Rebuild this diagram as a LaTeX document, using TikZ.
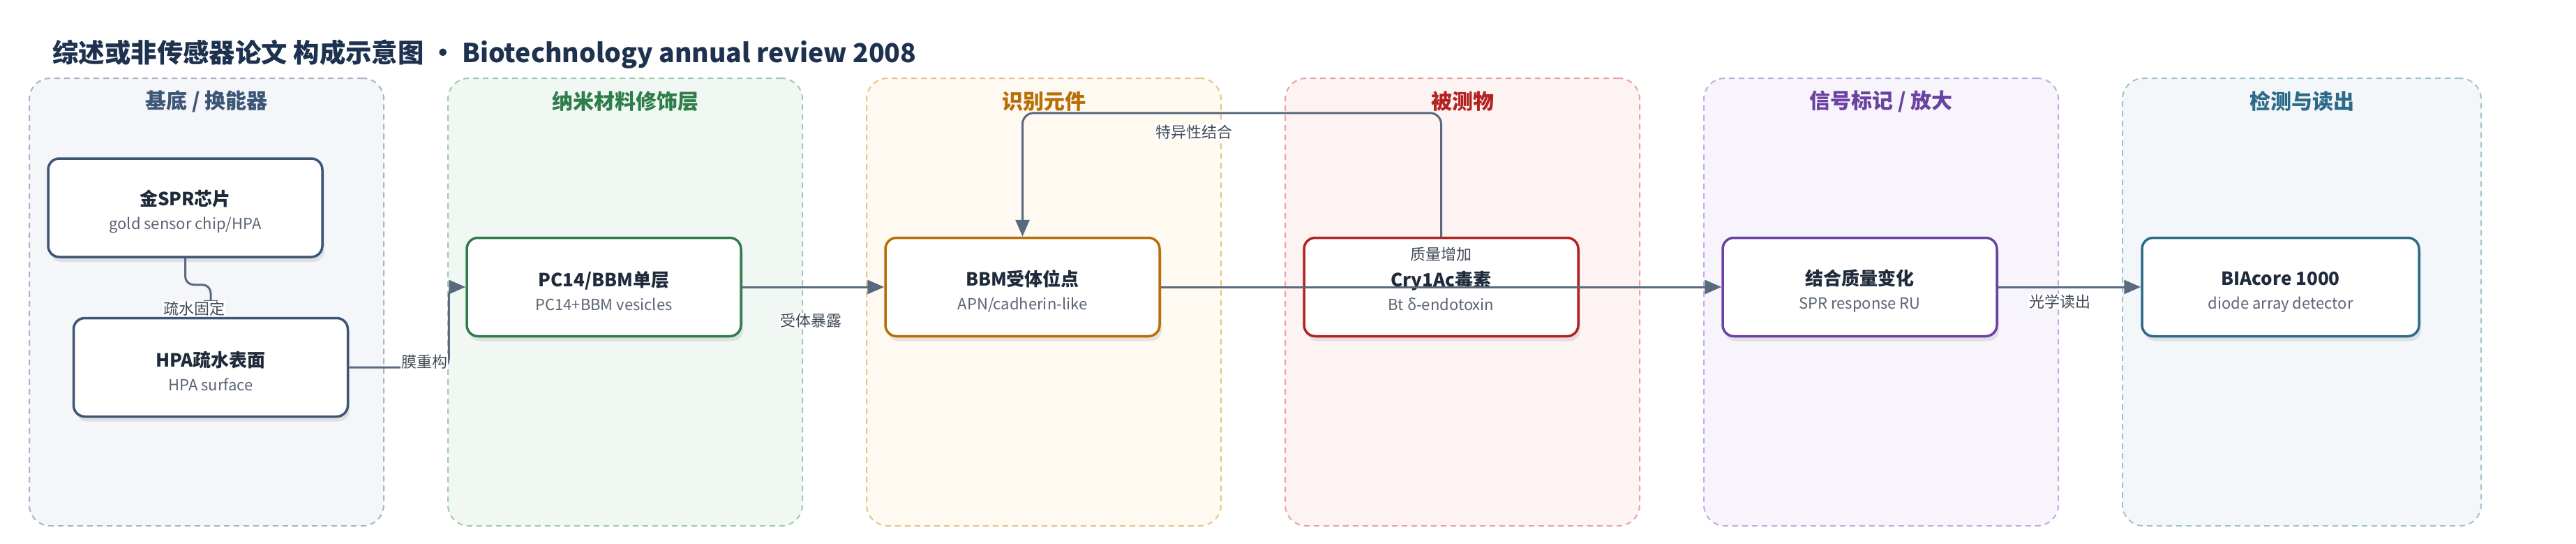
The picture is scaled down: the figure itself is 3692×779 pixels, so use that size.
\documentclass[tikz,border=0pt]{standalone}
\usepackage{fontspec}
\setmainfont{Noto Sans CJK SC}
\usetikzlibrary{arrows.meta,shadows}
\definecolor{ink}{HTML}{1F2A3A}
\definecolor{subgray}{HTML}{5A6474}
\definecolor{edgegray}{HTML}{5A6A7E}
\definecolor{headnavy}{HTML}{1E3250}
\definecolor{fillA}{HTML}{F4F6FA}\definecolor{lineA}{HTML}{A8B5C7}\definecolor{mainA}{HTML}{3D5676}
\definecolor{fillB}{HTML}{F1F8F3}\definecolor{lineB}{HTML}{9FCBAE}\definecolor{mainB}{HTML}{2E7D4A}
\definecolor{fillC}{HTML}{FEF9F1}\definecolor{lineC}{HTML}{E7C389}\definecolor{mainC}{HTML}{B86E06}
\definecolor{fillD}{HTML}{FDF3F3}\definecolor{lineD}{HTML}{E8A3A3}\definecolor{mainD}{HTML}{B42222}
\definecolor{fillE}{HTML}{F7F4FB}\definecolor{lineE}{HTML}{C6ABDF}\definecolor{mainE}{HTML}{6B41A1}
\definecolor{fillF}{HTML}{F3F7F9}\definecolor{lineF}{HTML}{A4C2CE}\definecolor{mainF}{HTML}{2E6A8A}
\newcommand{\unittext}[2]{\rule{0pt}{34pt}{\fontsize{26}{34}\selectfont\bfseries\color{ink}#1}\\{\color{subgray}#2}}
\begin{document}
\begin{tikzpicture}[x=1pt,y=-1pt,
    panel/.style 2 args={draw=#1, fill=#2, dashed, dash pattern=on 8pt off 6pt,
      line width=2pt, rounded corners=30pt, minimum width=508pt, minimum height=641pt},
    paneltitle/.style={text=#1, font=\fontsize{30}{34}\selectfont\bfseries},
    unit/.style={draw=#1, fill=white, line width=3.5pt, rounded corners=16pt,
      minimum width=393pt, minimum height=141pt, align=center,
      font=\fontsize{22}{34}\selectfont,
      drop shadow={opacity=0.18, shadow xshift=3pt, shadow yshift=-7pt}},
    flow/.style={draw=edgegray, line width=3pt, rounded corners=12pt,
      -{Triangle[length=24pt,width=20pt]}},
    lbl/.style={fill=white, text=ink!85, inner sep=1pt, font=\fontsize{22}{26}\selectfont}]
  \useasboundingbox (0,0) rectangle (3692,779);
  % title
  \node[anchor=west, text=headnavy, font=\fontsize{37.4}{44}\selectfont\bfseries] at (72,78) (head)
    {综述或非传感器论文 构成示意图 • Biotechnology annual review 2008};
  % panels
  \node[panel={lineA}{fillA}] at (296,432.5) (pA) {};
  \node[panel={lineB}{fillB}] at (896,432.5) (pB) {};
  \node[panel={lineC}{fillC}] at (1496,432.5) (pC) {};
  \node[panel={lineD}{fillD}] at (2096,432.5) (pD) {};
  \node[panel={lineE}{fillE}] at (2696,432.5) (pE) {};
  \node[panel={lineF}{fillF}, minimum width=514pt] at (3299,432.5) (pF) {};
  \node[paneltitle=mainA] at (296,145) (tA) {基底 / 换能器};
  \node[paneltitle=mainB] at (896,145) (tB) {纳米材料修饰层};
  \node[paneltitle=mainC] at (1496,145) (tC) {识别元件};
  \node[paneltitle=mainD] at (2096,145) (tD) {被测物};
  \node[paneltitle=mainE] at (2696,145) (tE) {信号标记 / 放大};
  \node[paneltitle=mainF] at (3299,145) (tF) {检测与读出};
  % units
  \node[unit=mainA] at (265.5,297.5) (chip) {\unittext{金SPR芯片}{gold sensor chip/HPA}};
  \node[unit=mainA] at (302,526) (hpa) {\unittext{HPA疏水表面}{HPA surface}};
  \node[unit=mainB] at (865.5,411) (pc) {\unittext{PC14/BBM单层}{PC14+BBM vesicles}};
  \node[unit=mainC] at (1465.5,411) (bbm) {\unittext{BBM受体位点}{APN/cadherin-like}};
  \node[unit=mainD] at (2065.5,411) (toxin) {\unittext{Cry1Ac毒素}{Bt δ-endotoxin}};
  \node[unit=mainE] at (2665.5,411) (mass) {\unittext{结合质量变化}{SPR response RU}};
  \node[unit=mainF, minimum width=397pt] at (3268.5,411) (det) {\unittext{BIAcore 1000}{diode array detector}};
  % connectors
  \draw[flow] (chip.south) -- ++(0,38) -| (hpa.north);
  \draw[flow] (hpa.east) -- ++(143,0) |- (pc.west);
  \draw[flow] (pc.east) -- (bbm.west);
  \draw[flow, rounded corners=16pt] (toxin.north) -- ++(0,-177) -| (bbm.north);
  \draw[flow] (bbm.east) -- (mass.west);
  \draw[flow] (mass.east) -- (det.west);
  % labels
  \node[lbl] at (278,442) (l1) {疏水固定};
  \node[lbl] at (608,518) (l2) {膜重构};
  \node[lbl] at (1162,459) (l3) {受体暴露};
  \node[lbl] at (1711,189) (l4) {特异性结合};
  \node[lbl] at (2065.5,364) (l5) {质量增加};
  \node[lbl] at (2952,432) (l6) {光学读出};
\end{tikzpicture}
\end{document}
